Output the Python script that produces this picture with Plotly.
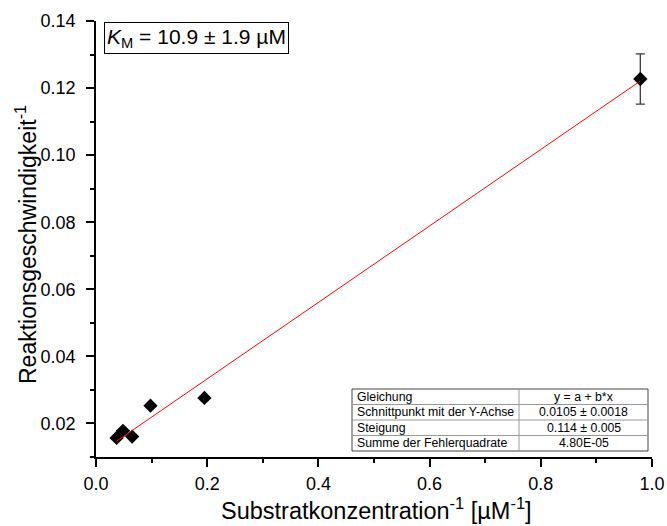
import plotly.graph_objects as go

# Lineweaver-Burk data: inverse substrate concentration vs inverse rate
inv_substrate = [0.037, 0.0485, 0.065, 0.098, 0.195, 0.979]
inv_rate = [0.0157, 0.0178, 0.0161, 0.0253, 0.0276, 0.1227]
inv_rate_err = [0.0004, 0.0005, 0.0004, 0.0005, 0.0006, 0.0075]

# linear fit y = a + b*x
fit_a = 0.0105
fit_b = 0.114

table_labels = ["Gleichung", "Schnittpunkt mit der Y-Achse", "Steigung",
                "Summe der Fehlerquadrate"]
table_values = ["y = a + b*x", "0.0105 ± 0.0018", "0.114 ± 0.005", "4.80E-05"]

km_text = "<i>K</i><sub>M</sub> = 10.9 ± 1.9 µM"
x_title = "Substratkonzentration<sup>-1</sup> [µM<sup>-1</sup>]"
y_title = "Reaktionsgeschwindigkeit<sup>-1</sup>"

W, H = 667, 526
ML, MR, MT, MB = 96, 15, 21, 69
PW, PH = W - ML - MR, H - MT - MB
FONT = "Liberation Sans, Arial, sans-serif"


def px(x):
    return (x - ML) / PW


def py(y):
    return (H - MB - y) / PH


fig = go.Figure()
fig.add_trace(go.Scatter(
    x=inv_substrate, y=inv_rate, mode="markers",
    marker=dict(symbol="diamond", size=11, color="black"),
    error_y=dict(type="data", array=inv_rate_err, color="#3a3a3a",
                 thickness=1.3, width=4.5),
    showlegend=False,
))
x_fit = [min(inv_substrate), max(inv_substrate)]
fig.add_trace(go.Scatter(
    x=x_fit, y=[fit_a + fit_b * v for v in x_fit], mode="lines",
    line=dict(color="red", width=1), showlegend=False,
))

axis_common = dict(
    showline=True, linecolor="black", linewidth=1.5, mirror=False,
    ticks="outside", ticklen=8, tickwidth=1.5, tickcolor="black",
    showgrid=False, zeroline=False, automargin=False,
    tickfont=dict(family=FONT, size=18, color="black"),
)
fig.update_xaxes(
    range=[0, 1.0], dtick=0.2, tickformat=".1f",
    minor=dict(ticks="outside", ticklen=4, dtick=0.1, tickwidth=1.5,
               tickcolor="black"),
    ticklabelstandoff=2,
    **axis_common,
)
fig.update_yaxes(
    range=[0.01, 0.14], tick0=0, dtick=0.02, tickformat=".2f",
    minor=dict(ticks="outside", ticklen=4, dtick=0.01, tickwidth=1.5,
               tickcolor="black"),
    ticklabelstandoff=7,
    **axis_common,
)

annotations = [
    dict(text=km_text, xref="paper", yref="paper", x=px(104), y=py(22),
         xanchor="left", yanchor="top", showarrow=False,
         font=dict(family=FONT, size=21, color="black"),
         bordercolor="black", borderwidth=1, borderpad=2, bgcolor="white"),
    # axis titles
    dict(text=x_title, xref="paper", yref="paper", x=px(376), y=py(526),
         xanchor="center", yanchor="bottom", showarrow=False,
         font=dict(family=FONT, size=23.5, color="black")),
    dict(text=y_title, xref="paper", yref="paper", x=px(26), y=py(245),
         xanchor="center", yanchor="middle", showarrow=False, textangle=-90,
         font=dict(family=FONT, size=23, color="black")),
]

# results table
tx0, tx1, tdiv = 352, 648, 519
ty0, row_h = 389, 15.5
n = len(table_labels)
shapes = [dict(type="rect", xref="paper", yref="paper",
               x0=px(tx0), x1=px(tx1), y0=py(ty0), y1=py(ty0 + n * row_h),
               line=dict(color="#444", width=1), fillcolor="white", layer="above")]
shapes.append(dict(type="line", xref="paper", yref="paper",
                   x0=px(tdiv), x1=px(tdiv), y0=py(ty0), y1=py(ty0 + n * row_h),
                   line=dict(color="#999", width=1), layer="above"))
for i in range(1, n):
    yy = py(ty0 + i * row_h)
    shapes.append(dict(type="line", xref="paper", yref="paper",
                       x0=px(tx0), x1=px(tx1), y0=yy, y1=yy,
                       line=dict(color="#999", width=1), layer="above"))
for i, (lab, val) in enumerate(zip(table_labels, table_values)):
    yc = py(ty0 + (i + 0.5) * row_h)
    annotations.append(dict(text=lab, xref="paper", yref="paper",
                            x=px(tx0 + 3), y=yc, xanchor="left", yanchor="middle",
                            showarrow=False,
                            font=dict(family=FONT, size=12.3, color="black")))
    annotations.append(dict(text=val, xref="paper", yref="paper",
                            x=px((tdiv + tx1) / 2), y=yc, xanchor="center",
                            yanchor="middle", showarrow=False,
                            font=dict(family=FONT, size=12.3, color="black")))

fig.update_layout(
    width=W, height=H,
    margin=dict(l=ML, r=MR, t=MT, b=MB),
    paper_bgcolor="white", plot_bgcolor="white",
    annotations=annotations, shapes=shapes,
)

fig.write_html("out.html")
